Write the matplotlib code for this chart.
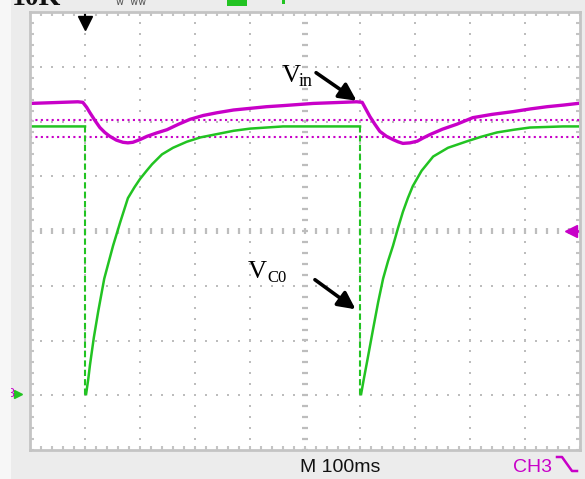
import numpy as np
import matplotlib.pyplot as plt
from matplotlib.lines import Line2D
from matplotlib.patches import Rectangle

nan = float('nan')

# time in ms (M 100ms, 10 divisions), level in divisions (8 divisions)
vin_t = [0, 87, 96, 103, 109, 118, 127, 136, 145, 157, 169, 178, 187, 200, 213, 230, 249, 270, 291,
         315, 340, 370, 400, 430, 460, 515,
         594, 604, 611, 618, 627, 636, 648, 660, 669, 678, 691, 704, 715, 727, 750, 776, 805, 840, 878, 910, 940, 970, 996]
vin_v = [2.33, 2.36, 2.35, 2.26, 2.16, 2.02, 1.89, 1.80, 1.73, 1.66, 1.62, 1.61, 1.62, 1.67, 1.73, 1.79, 1.85, 1.95, 2.04,
         2.11, 2.16, 2.21, 2.24, 2.27, 2.29, 2.33,
         2.36, 2.35, 2.22, 2.09, 1.95, 1.82, 1.73, 1.67, 1.63, 1.60, 1.61, 1.64, 1.70, 1.76, 1.86, 1.95, 2.07, 2.13, 2.18, 2.23, 2.27, 2.30, 2.33]

vc_t = [0, 100, nan,
        102, 106, 109, 116, 124, 135, 151, 164, 178, 190, 200, 212, 222, 240, 260, 285, 310, 340, 370, 400, 460, 600, nan,
        602, 607, 613, 624, 633, 642, 651, 660, 669, 678, 687, 696, 712, 733, 760, 795, 820, 849, 880, 909, 969, 996]
vc_v = [1.91, 1.91, nan,
        -2.98, -2.70, -2.45, -1.95, -1.47, -0.87, -0.27, 0.16, 0.60, 0.80, 0.95, 1.10, 1.22, 1.40, 1.52, 1.63, 1.71, 1.77, 1.83, 1.87, 1.91, 1.91, nan,
        -2.98, -2.70, -2.38, -1.78, -1.30, -0.87, -0.55, -0.27, 0.05, 0.35, 0.60, 0.82, 1.10, 1.36, 1.52, 1.64, 1.72, 1.80, 1.85, 1.89, 1.91, 1.91]

drop_t = [100, 600]
drop_hi = 1.91
drop_lo = -3.0
cursor_levels = [2.03, 1.71]

MAG = '#c800c8'
GRN = '#22c322'
GRID = '#bdbdbd'

fig = plt.figure(figsize=(5.85, 4.79), dpi=100)
fig.patch.set_facecolor('#ececec')
fig.patches.append(Rectangle((0, 0), 11 / 585, 1, transform=fig.transFigure,
                             facecolor='#f7f7f7', edgecolor='none', zorder=0))

ax = fig.add_axes([30 / 585, 29 / 479, 550 / 585, 438 / 479])
ax.set_xlim(0, 1000)
ax.set_ylim(-4, 4)
ax.set_facecolor('white')
ax.set_xticks([])
ax.set_yticks([])
for s in ax.spines.values():
    s.set_color('#c4c4c4')
    s.set_linewidth(2)

# graticule
minor_t = np.arange(0, 1001, 20)
minor_v = np.arange(-4, 4.01, 0.2)
for gx in range(100, 1000, 100):
    if gx == 500:
        continue
    ax.plot([gx] * len(minor_v), minor_v, ls='none', marker='s', ms=1.6, color=GRID, mew=0)
for gy in range(-3, 4):
    if gy == 0:
        continue
    ax.plot(minor_t, [gy] * len(minor_t), ls='none', marker='s', ms=1.6, color=GRID, mew=0)
ax.plot([500] * len(minor_v), minor_v, ls='none', marker='_', ms=5, mew=1.6, color=GRID)
ax.plot(minor_t, [0] * len(minor_t), ls='none', marker='|', ms=5, mew=1.6, color=GRID)
tk_v = 4 / 54.75
tk_t = 4 / 0.55
ax.vlines(minor_t, 4 - tk_v, 4, color='#c4c4c4', lw=1.5)
ax.vlines(minor_t, -4, -4 + tk_v, color='#c4c4c4', lw=1.5)
ax.hlines(minor_v, 0, tk_t, color='#c4c4c4', lw=1.5)
ax.hlines(minor_v, 1000 - tk_t, 1000, color='#c4c4c4', lw=1.5)

# cursors
for lv in cursor_levels:
    ax.axhline(lv, color=MAG, lw=1.5, ls=(0, (1, 1.6)))

# traces
ax.plot(vc_t, vc_v, color=GRN, lw=1.8)
for t in drop_t:
    ax.plot([t, t], [drop_hi, drop_lo], color=GRN, lw=1.5, ls=(0, (3, 1.5)))
ax.plot(vin_t, vin_v, color=MAG, lw=2.4)

# markers
ax.plot([100, 100], [4, 3.8], color='black', lw=1.5)
ax.plot([100], [3.8], marker='v', ms=10, color='black', clip_on=False)
ax.plot([984, 996], [0, 0], color=MAG, lw=1.8)
ax.plot([984], [0], marker='<', ms=8, color=MAG, clip_on=False)
ax.text(-40, -2.98, '3', color=MAG, fontsize=9, ha='left', va='center',
        family='Liberation Sans', clip_on=False)
ax.plot([-22], [-2.98], marker='>', ms=6, color=GRN, clip_on=False)

# labels
serif = 'Liberation Serif'
ax.text(458, 2.72, 'V', fontsize=19, family=serif, ha='left', va='baseline')
ax.text(488, 2.64, 'in', fontsize=13, family=serif, ha='left', va='baseline')
ax.annotate('', xy=(598, 2.35), xytext=(516, 2.92),
            arrowprops=dict(arrowstyle='-|>', color='black', lw=2.6, mutation_scale=26))
ax.text(396, -0.86, 'V', fontsize=19, family=serif, ha='left', va='baseline')
ax.text(431, -0.93, 'C0', fontsize=12, family=serif, ha='left', va='baseline')
ax.annotate('', xy=(596, -1.46), xytext=(514, -0.86),
            arrowprops=dict(arrowstyle='-|>', color='black', lw=2.6, mutation_scale=26))

# status bar
fig.text(300 / 585, 1 - 472 / 479, 'M 100ms', fontsize=14, family='Liberation Sans',
         va='baseline', ha='left', color='#111111')
fig.text(513 / 585, 1 - 472 / 479, 'CH3', fontsize=14, family='Liberation Sans',
         va='baseline', ha='left', color=MAG)
fig.lines.append(Line2D([557 / 585, 562 / 585, 572 / 585, 577 / 585],
                        [1 - 457 / 479, 1 - 457 / 479, 1 - 471 / 479, 1 - 471 / 479],
                        transform=fig.transFigure, color=MAG, lw=1.8))

# clipped header
fig.text(12 / 585, 1 - 5 / 479, '10K', fontsize=20, weight='bold', family='Liberation Serif',
         va='baseline', ha='left', color='#111111')
fig.text(116 / 585, 1 - 5 / 479, 'w  ww', fontsize=7, family='DejaVu Sans',
         va='baseline', ha='left', color='#555555')
fig.patches.append(Rectangle((227 / 585, 1 - 6 / 479), 20 / 585, 6 / 479,
                             transform=fig.transFigure, facecolor=GRN, edgecolor='none'))
fig.patches.append(Rectangle((282 / 585, 1 - 4 / 479), 3 / 585, 4 / 479,
                             transform=fig.transFigure, facecolor=GRN, edgecolor='none'))

fig.savefig('out.png', dpi=100)
